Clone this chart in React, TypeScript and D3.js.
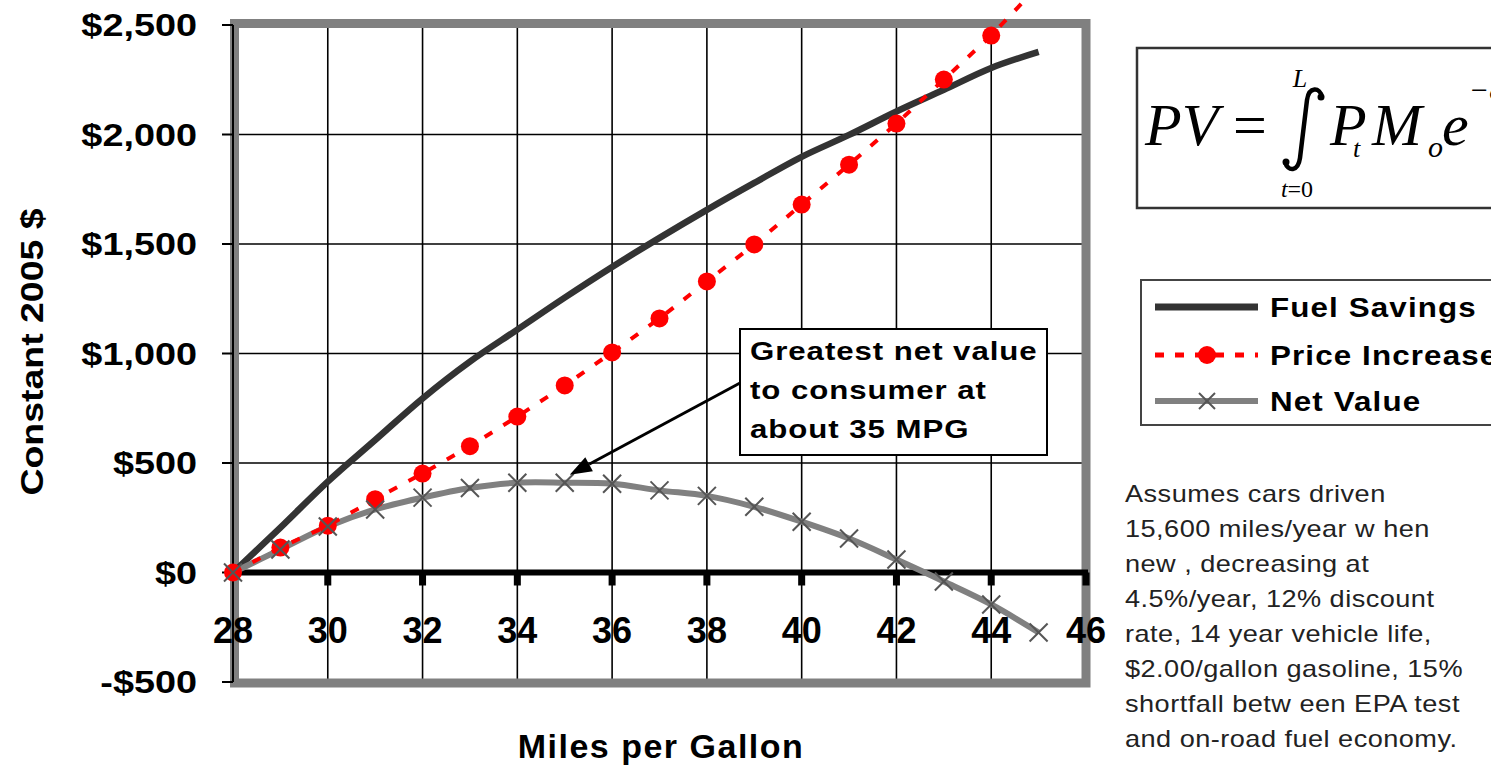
import React from "react";
import * as d3 from "d3";

// ---- data ----
const mpg = [28, 29, 30, 31, 32, 33, 34, 35, 36, 37, 38, 39, 40, 41, 42, 43, 44, 45];
const fuelSavings = [0, 205, 415, 605, 795, 963, 1109, 1255, 1395, 1528, 1656, 1779, 1898, 1998, 2105, 2204, 2304, 2377];
const priceIncrease = [0, 114, 214, 335, 452, 577, 712, 854, 1005, 1160, 1329, 1498, 1680, 1862, 2050, 2251, 2452, 2680];
const netValue = [0, 105, 210, 288, 342, 386, 410, 410, 405, 375, 350, 300, 232, 155, 59, -41, -146, -274];
const xTicks = [28, 30, 32, 34, 36, 38, 40, 42, 44, 46];
const yTicks = [-500, 0, 500, 1000, 1500, 2000, 2500];
const legendLabels = ["Fuel Savings", "Price Increase", "Net Value"];
const annotationLines = ["Greatest net value", "to consumer at", "about 35 MPG"];
const noteLines = [
  "Assumes cars driven",
  "15,600 miles/year w hen",
  "new , decreasing at",
  "4.5%/year, 12% discount",
  "rate, 14 year vehicle life,",
  "$2.00/gallon gasoline, 15%",
  "shortfall betw een EPA test",
  "and on-road fuel economy.",
];

const SANS = "'Liberation Sans', Arial, Helvetica, sans-serif";
const SERIF = "'Liberation Serif', 'Times New Roman', serif";

const x = d3.scaleLinear().domain([28, 46]).range([233, 1086]);
const y = d3.scaleLinear().domain([-500, 2500]).range([682, 25]);

const fmtMoney = (v: number) => (v < 0 ? "-$" : "$") + d3.format(",")(Math.abs(v));

function XMark({ cx, cy, r = 9 }: { cx: number; cy: number; r?: number }) {
  return (
    <g stroke="#555" strokeWidth={2}>
      <line x1={cx - r} y1={cy - r} x2={cx + r} y2={cy + r} />
      <line x1={cx - r} y1={cy + r} x2={cx + r} y2={cy - r} />
    </g>
  );
}

function WideText({ tx, ty, sx, rot = 0, children, ...rest }: any) {
  return (
    <text transform={`translate(${tx},${ty}) rotate(${rot}) scale(${sx},1)`} x={0} y={0} {...rest}>
      {children}
    </text>
  );
}

export default function App() {
  const fuelPts: [number, number][] = mpg.map((m, i) => [x(m), y(fuelSavings[i])]);
  const pricePts: [number, number][] = mpg.map((m, i) => [x(m), y(priceIncrease[i])]);
  const netPts: [number, number][] = mpg.map((m, i) => [x(m), y(netValue[i])]);
  const smooth = d3.line().curve(d3.curveCatmullRom.alpha(0.5));
  const straight = d3.line();

  const gridX = xTicks.filter((t) => t > 28 && t < 46);
  const gridY = yTicks.filter((t) => t > -500 && t < 2500 && t !== 0);

  const x0 = x(28), x1 = x(46), yTop = y(2500), yBot = y(-500);

  // annotation
  const ax = 740, ay = 329, aw = 307, ah = 126;
  const tipX = x(35) + 5, tipY = y(netValue[7]) - 8;
  const fromX = ax, fromY = 383;
  const ang = Math.atan2(tipY - fromY, tipX - fromX);
  const hl = 22, hw = 8;
  const bx = tipX - hl * Math.cos(ang), by = tipY - hl * Math.sin(ang);
  const head = `M${tipX},${tipY} L${bx + hw * Math.sin(ang)},${by - hw * Math.cos(ang)} L${bx - hw * Math.sin(ang)},${by + hw * Math.cos(ang)} Z`;

  const legendRows = [307, 355, 401];

  return (
    <svg
      width={1491}
      height={770}
      style={{ position: "absolute", left: 0, top: 0, background: "#fff" }}
    >
      <rect x={0} y={0} width={1491} height={770} fill="#fff" />

      {/* gridlines */}
      {gridX.map((t) => (
        <line key={"gx" + t} x1={x(t)} x2={x(t)} y1={yTop} y2={yBot} stroke="#000" strokeWidth={1.6} />
      ))}
      {gridY.map((t) => (
        <line key={"gy" + t} x1={x0} x2={x1} y1={y(t)} y2={y(t)} stroke="#000" strokeWidth={1.6} />
      ))}

      {/* plot border */}
      <rect x={x0 + 1.5} y={yTop - 1.5} width={x1 - x0 - 1.5} height={yBot - yTop + 2.5} fill="none" stroke="#808080" strokeWidth={9} />

      {/* left axis */}
      <line x1={x0} x2={x0} y1={yTop} y2={yBot} stroke="#000" strokeWidth={2} />
      {yTicks.map((t) => (
        <line key={"yt" + t} x1={x0 - 11} x2={x0} y1={y(t)} y2={y(t)} stroke="#000" strokeWidth={2} />
      ))}

      {/* zero line + ticks */}
      <line x1={x0} x2={x1 + 2} y1={y(0)} y2={y(0)} stroke="#000" strokeWidth={6} />
      {xTicks.filter((t) => t > 28).map((t) => (
        <rect key={"xt" + t} x={x(t) - 3.5} y={y(0)} width={7} height={13} fill="#000" />
      ))}

      {/* y labels */}
      {yTicks.map((t) => (
        <WideText key={"yl" + t} tx={197} ty={y(t) + 11} sx={1.22} textAnchor="end" fontFamily={SANS} fontWeight="bold" fontSize={31} fill="#000">
          {fmtMoney(t)}
        </WideText>
      ))}

      {/* x labels */}
      {xTicks.map((t) => (
        <text key={"xl" + t} x={x(t)} y={643} textAnchor="middle" fontFamily={SANS} fontWeight="bold" fontSize={36} fill="#000">
          {t}
        </text>
      ))}

      {/* axis titles */}
      <WideText tx={43} ty={352} rot={-90} sx={1.17} textAnchor="middle" fontFamily={SANS} fontWeight="bold" fontSize={32} fill="#000">
        Constant 2005 $
      </WideText>
      <text x={661} y={758} textAnchor="middle" fontFamily={SANS} fontWeight="bold" fontSize={34} letterSpacing={1.5} fill="#000">
        Miles per Gallon
      </text>

      {/* series */}
      <path d={smooth(fuelPts) || ""} fill="none" stroke="#333" strokeWidth={6.5} />
      <path d={smooth(netPts) || ""} fill="none" stroke="#808080" strokeWidth={6} />
      <path d={straight(pricePts) || ""} fill="none" stroke="#ff0000" strokeWidth={4} strokeDasharray="9 13" />
      {pricePts.map(([px, py], i) => (
        <circle key={"pc" + i} cx={px} cy={py} r={9} fill="#ff0000" />
      ))}
      {netPts.map(([px, py], i) => (
        <XMark key={"nx" + i} cx={px} cy={py} r={9} />
      ))}

      {/* annotation */}
      <line x1={fromX} y1={fromY} x2={bx} y2={by} stroke="#000" strokeWidth={3} />
      <path d={head} fill="#000" />
      <rect x={ax} y={ay} width={aw} height={ah} fill="#fff" stroke="#000" strokeWidth={2} />
      {annotationLines.map((s, i) => (
        <WideText key={"an" + i} tx={ax + 10} ty={360 + i * 39} sx={1.2} fontFamily={SANS} fontWeight="bold" fontSize={26} letterSpacing={0.8} fill="#000">
          {s}
        </WideText>
      ))}

      {/* formula box */}
      <rect x={1137} y={48} width={400} height={160} fill="#fff" stroke="#333" strokeWidth={2.5} />
      <g fontFamily={SERIF} fill="#000">
        <text x={1145} y={145} fontSize={60} fontStyle="italic">PV</text>
        <text x={1233} y={145} fontSize={60}>=</text>
        <text x={1300} y={87} fontSize={26} fontStyle="italic" textAnchor="middle">L</text>
        <text x={1297} y={197} fontSize={24} textAnchor="middle">
          <tspan fontStyle="italic">t</tspan>=0
        </text>
        <text x={1330} y={145} fontSize={60} fontStyle="italic">P</text>
        <text x={1353} y={157} fontSize={26} fontStyle="italic">t</text>
        <text x={1372} y={145} fontSize={60} fontStyle="italic">M</text>
        <text x={1428} y={157} fontSize={30} fontStyle="italic">o</text>
        <text x={1442} y={145} fontSize={60} fontStyle="italic">e</text>
        <text x={1469} y={100} fontSize={30} fontStyle="italic">−δ</text>
      </g>
      <path d="M1322,97 C1320,87 1309,86 1307,100 L1300,158 C1298,172 1288,172 1285,162" fill="none" stroke="#000" strokeWidth={4.5} />
      <circle cx={1321} cy={97} r={3.5} fill="#000" />
      <circle cx={1286} cy={162} r={3.5} fill="#000" />

      {/* legend */}
      <rect x={1141} y={280} width={400} height={145} fill="#fff" stroke="#444" strokeWidth={2} />
      {legendLabels.map((s, i) => {
        const ly = legendRows[i];
        return (
          <g key={"lg" + i}>
            {i === 0 && <line x1={1155} x2={1258} y1={ly} y2={ly} stroke="#333" strokeWidth={7} />}
            {i === 1 && (
              <g>
                <line x1={1155} x2={1258} y1={ly} y2={ly} stroke="#ff0000" strokeWidth={5} strokeDasharray="9 11" />
                <circle cx={1207} cy={ly} r={9} fill="#ff0000" />
              </g>
            )}
            {i === 2 && (
              <g>
                <line x1={1155} x2={1258} y1={ly} y2={ly} stroke="#808080" strokeWidth={6} />
                <XMark cx={1207} cy={ly} r={8} />
              </g>
            )}
            <WideText tx={1270} ty={ly + 10} sx={1.12} fontFamily={SANS} fontWeight="bold" fontSize={28} letterSpacing={1} fill="#000">
              {s}
            </WideText>
          </g>
        );
      })}

      {/* note */}
      {noteLines.map((s, i) => (
        <WideText key={"nt" + i} tx={1125} ty={502 + i * 35} sx={1.18} fontFamily={SANS} fontSize={23} letterSpacing={0.4} fill="#222">
          {s}
        </WideText>
      ))}
    </svg>
  );
}
